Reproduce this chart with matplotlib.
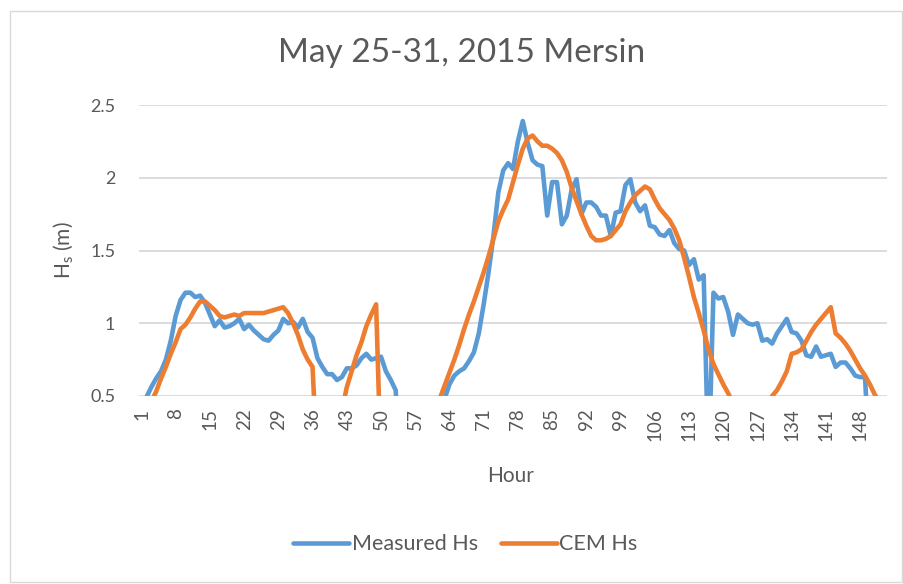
import matplotlib
matplotlib.use('Agg')
import matplotlib.pyplot as plt
from matplotlib.patches import Rectangle

# Данные: часы и высоты волн (м)
hours = list(range(1, 153))

measured_hs = [
    0.40, 0.49, 0.56, 0.62, 0.67, 0.75, 0.88, 1.05, 1.16, 1.21,
    1.21, 1.18, 1.19, 1.14, 1.06, 0.98, 1.02, 0.97, 0.98, 1.00,
    1.03, 0.96, 0.99, 0.95, 0.92, 0.89, 0.88, 0.92, 0.95, 1.03,
    1.00, 1.01, 0.97, 1.03, 0.94, 0.90, 0.76, 0.70, 0.65, 0.65,
    0.61, 0.63, 0.69, 0.69, 0.71, 0.76, 0.79, 0.75, 0.76, 0.77,
    0.67, 0.61, 0.54, 0.00, 0.00, 0.00, 0.00, 0.00, 0.00, 0.00,
    0.00, 0.00, 0.48, 0.58, 0.64, 0.67, 0.69, 0.74, 0.80, 0.93,
    1.13, 1.35, 1.60, 1.90, 2.05, 2.10, 2.06, 2.25, 2.39, 2.24,
    2.12, 2.09, 2.08, 1.74, 1.97, 1.97, 1.68, 1.74, 1.92, 1.99,
    1.75, 1.83, 1.83, 1.80, 1.74, 1.74, 1.60, 1.76, 1.77, 1.95,
    1.99, 1.83, 1.77, 1.81, 1.67, 1.66, 1.61, 1.60, 1.64, 1.55,
    1.51, 1.50, 1.40, 1.44, 1.30, 1.33, 0.00, 1.21, 1.17, 1.18,
    1.08, 0.92, 1.06, 1.03, 1.00, 0.99, 1.00, 0.88, 0.89, 0.86,
    0.93, 0.98, 1.03, 0.94, 0.93, 0.88, 0.78, 0.77, 0.84, 0.77,
    0.78, 0.79, 0.70, 0.73, 0.73, 0.69, 0.64, 0.63, 0.63, 0.00,
    0.00, 0.00,
]

cem_hs = [
    0.30, 0.38, 0.46, 0.53, 0.62, 0.70, 0.79, 0.87, 0.96, 0.99,
    1.04, 1.10, 1.15, 1.15, 1.12, 1.09, 1.05, 1.04, 1.05, 1.06,
    1.05, 1.07, 1.07, 1.07, 1.07, 1.07, 1.08, 1.09, 1.10, 1.11,
    1.07, 1.00, 0.92, 0.82, 0.75, 0.70, 0.00, 0.00, 0.00, 0.00,
    0.00, 0.40, 0.56, 0.67, 0.78, 0.87, 0.98, 1.06, 1.13, 0.00,
    0.00, 0.00, 0.00, 0.00, 0.00, 0.00, 0.00, 0.00, 0.00, 0.00,
    0.00, 0.48, 0.57, 0.66, 0.75, 0.85, 0.96, 1.06, 1.15, 1.25,
    1.35, 1.46, 1.58, 1.70, 1.78, 1.85, 1.97, 2.09, 2.20, 2.27,
    2.29, 2.25, 2.22, 2.22, 2.20, 2.17, 2.12, 2.04, 1.93, 1.84,
    1.75, 1.67, 1.60, 1.57, 1.57, 1.58, 1.60, 1.64, 1.68, 1.77,
    1.83, 1.88, 1.91, 1.94, 1.92, 1.85, 1.79, 1.75, 1.71, 1.65,
    1.57, 1.45, 1.32, 1.18, 1.07, 0.95, 0.82, 0.72, 0.65, 0.58,
    0.52, 0.45, 0.00, 0.00, 0.00, 0.00, 0.00, 0.00, 0.00, 0.50,
    0.54, 0.60, 0.67, 0.79, 0.80, 0.82, 0.88, 0.94, 0.99, 1.03,
    1.07, 1.11, 0.93, 0.90, 0.86, 0.81, 0.75, 0.69, 0.64, 0.58,
    0.51, 0.45,
]

x_ticks = list(range(1, 153, 7))
y_ticks = [0.5, 1, 1.5, 2, 2.5]
y_tick_labels = ['0.5', '1', '1.5', '2', '2.5']

assert len(measured_hs) == len(hours) and len(cem_hs) == len(hours)

plt.rcParams['font.family'] = ['Lato', 'DejaVu Sans']
plt.rcParams['mathtext.fontset'] = 'custom'
plt.rcParams['mathtext.rm'] = 'Lato'

gray = '#595959'

fig = plt.figure(figsize=(9.04, 5.84), dpi=100)
fig.patches.append(Rectangle((10 / 904, 2 / 584), 892 / 904, 571 / 584,
                             transform=fig.transFigure, fill=False,
                             edgecolor='#D9D9D9', lw=1.0))

ax = fig.add_axes([139 / 904, 188 / 584, 748 / 904, 291 / 584])
ax.plot(hours, measured_hs, color='#5B9BD5', lw=3.3, label='Measured Hs',
        solid_joinstyle='round', solid_capstyle='round')
ax.plot(hours, cem_hs, color='#ED7D31', lw=3.3, label='CEM Hs',
        solid_joinstyle='round', solid_capstyle='round')

ax.set_xlim(0.5, 153.5)
ax.set_ylim(0.5, 2.5)
ax.set_yticks(y_ticks)
ax.set_yticklabels(y_tick_labels)
ax.set_xticks(x_ticks)
ax.set_xticklabels([str(t) for t in x_ticks], rotation=90)
ax.tick_params(length=0, colors=gray, labelsize=13)
ax.tick_params(axis='y', pad=17)
ax.tick_params(axis='x', pad=9, labelsize=13.5)

ax.grid(axis='y', color='#D9D9D9', lw=1.3)
ax.set_axisbelow(True)
for s in ax.spines.values():
    s.set_visible(False)

ax.set_xlabel('Hour', color=gray, fontsize=15)
ax.xaxis.set_label_coords(0.497, -0.24)
ax.set_ylabel(r'$\mathregular{H_s}$ (m)', color=gray, fontsize=15)
ax.yaxis.set_label_coords(-0.085, 0.5)

fig.text(0.511, 0.91, 'May 25-31, 2015 Mersin', ha='center', va='center',
         color=gray, fontsize=24)

fig.legend(loc='center', bbox_to_anchor=(0.515, 0.068), ncol=2, frameon=False,
           fontsize=15.5, handlelength=2.6, handletextpad=0.1, columnspacing=1.1,
           labelcolor=gray)

plt.savefig('out.png', dpi=100)
